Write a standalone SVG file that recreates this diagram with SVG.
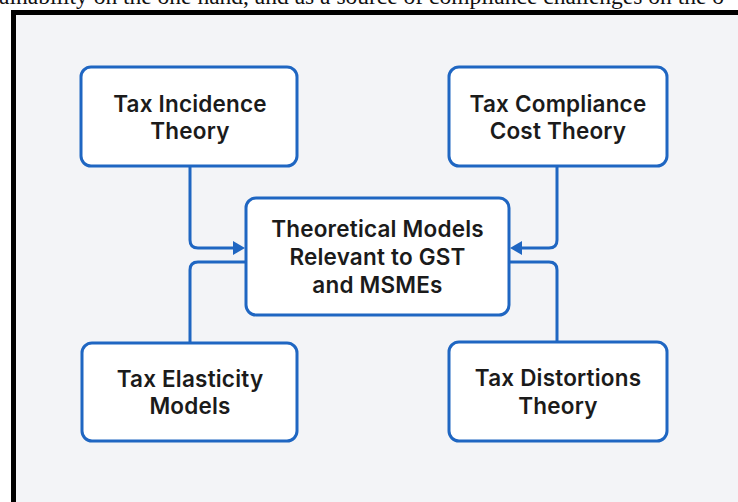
<svg xmlns="http://www.w3.org/2000/svg" width="738" height="502" viewBox="0 0 738 502">
  <style>
    .page { fill: #ffffff; }
    .caption { font-family: "Liberation Serif", "Times New Roman", serif; font-size: 23.5px; fill: #111111; }
    .frame { fill: #f3f4f7; stroke: #000000; stroke-width: 5; }
    .box { fill: #ffffff; stroke: #1f66c2; stroke-width: 3; }
    .label { font-family: Inter, "Noto Sans", "Liberation Sans", sans-serif; font-weight: 600; font-size: 22.5px; letter-spacing: 0.2px; fill: #1b1b1b; text-anchor: middle; }
    .link { fill: none; stroke: #1f66c2; stroke-width: 3; stroke-linejoin: round; }
  </style>
  <defs>
    <marker id="arrow" markerUnits="userSpaceOnUse" markerWidth="12" markerHeight="14" refX="3" refY="7" orient="auto">
      <path d="M0,0 L12,7 L0,14 Z" fill="#1f66c2"/>
    </marker>
  </defs>

  <rect class="page" x="0" y="0" width="738" height="502"/>
  <!-- running text line above the figure -->
  <text class="caption" x="-1" y="4">ainability on the one hand, and as a source of compliance challenges on the o</text>

  <!-- figure frame -->
  <rect class="frame" x="13.5" y="12.5" width="740" height="500"/>

  <!-- connectors -->
  <g id="connectors">
    <path class="link" d="M190,166 V240 Q190,248 198,248 H236" marker-end="url(#arrow)"/>
    <path class="link" d="M557,166 V240 Q557,248 549,248 H519" marker-end="url(#arrow)"/>
    <path class="link" d="M246,262 H198 Q190,262 190,270 V342"/>
    <path class="link" d="M509,262 H549 Q557,262 557,270 V342"/>
  </g>

  <g id="tax-incidence">
    <rect class="box" x="81" y="67" width="216" height="99" rx="10"/>
    <text class="label" x="190" y="112">Tax Incidence</text>
    <text class="label" x="190" y="139">Theory</text>
  </g>

  <g id="tax-compliance-cost">
    <rect class="box" x="449" y="67" width="218" height="99" rx="10"/>
    <text class="label" x="558" y="112">Tax Compliance</text>
    <text class="label" x="558" y="139">Cost Theory</text>
  </g>

  <g id="theoretical-models">
    <rect class="box" x="246" y="198" width="263" height="117" rx="10"/>
    <text class="label" x="377.5" y="237">Theoretical Models</text>
    <text class="label" x="377.5" y="265">Relevant to GST</text>
    <text class="label" x="377.5" y="293">and MSMEs</text>
  </g>

  <g id="tax-elasticity">
    <rect class="box" x="82" y="343" width="215" height="98" rx="10"/>
    <text class="label" x="190" y="387">Tax Elasticity</text>
    <text class="label" x="190" y="414">Models</text>
  </g>

  <g id="tax-distortions">
    <rect class="box" x="449" y="342" width="218" height="99" rx="10"/>
    <text class="label" x="558" y="386">Tax Distortions</text>
    <text class="label" x="558" y="414">Theory</text>
  </g>
</svg>
